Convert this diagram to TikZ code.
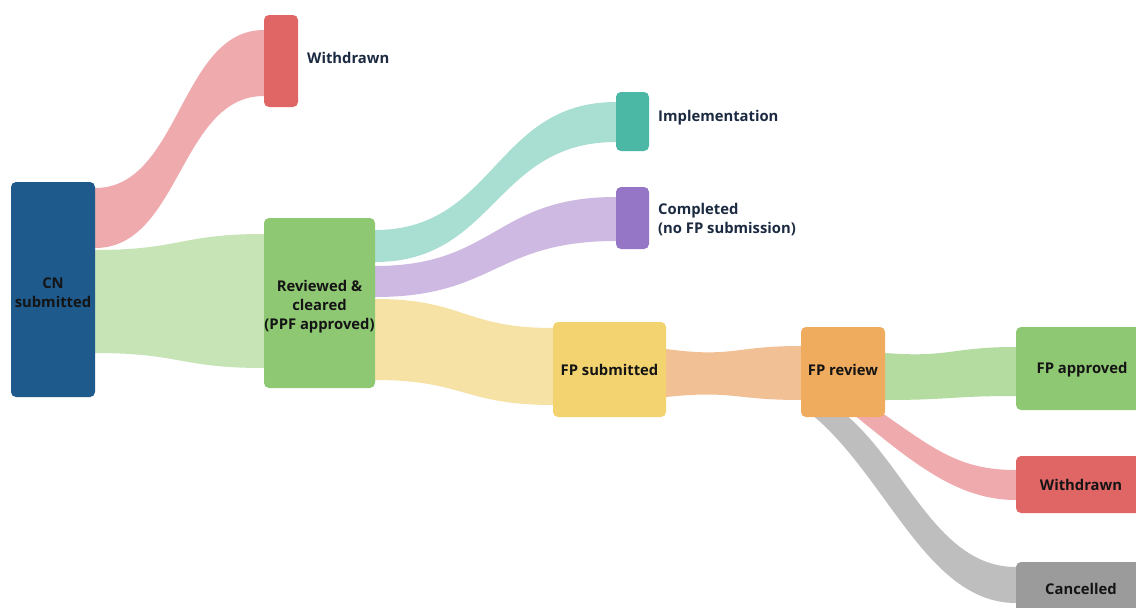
\documentclass[tikz,border=0pt]{standalone}
\usepackage{fontspec}
\setmainfont{Open Sans}
\usetikzlibrary{calc,backgrounds}
\definecolor{cnblue}{HTML}{1E5A8C}
\definecolor{nred}{HTML}{E06666}
\definecolor{ngreen}{HTML}{8FC873}
\definecolor{nteal}{HTML}{4BB8A6}
\definecolor{npurple}{HTML}{9575C6}
\definecolor{nyellow}{HTML}{F2D36F}
\definecolor{norange}{HTML}{F0AC5E}
\definecolor{ngray}{HTML}{9B9B9B}
\definecolor{fpink}{HTML}{EFAAAE}
\definecolor{fgreen}{HTML}{C6E4B6}
\definecolor{fteal}{HTML}{A9DED3}
\definecolor{fpurple}{HTML}{CDB9E1}
\definecolor{fyellow}{HTML}{F6E2A4}
\definecolor{fpeach}{HTML}{F2C095}
\definecolor{fgreen2}{HTML}{B4DBA0}
\definecolor{fgray}{HTML}{BEBEBE}
\definecolor{txtdark}{HTML}{141414}
\definecolor{lbl}{HTML}{1B2A41}
\tikzset{
  bar/.style={rectangle, rounded corners=5pt, inner sep=0pt},
  intext/.style={inner sep=0pt, align=center,
    font=\fontsize{14.8}{19}\selectfont\bfseries, text=txtdark},
  outlabel/.style={anchor=west, inner sep=0pt, align=left,
    font=\fontsize{14.8}{19}\selectfont\bfseries, text=lbl}
}
\begin{document}
\begin{tikzpicture}[x=1pt,y=-1pt]
\useasboundingbox (0,0) rectangle (1136,608);
\begin{scope}
\clip (0,0) rectangle (1136,608);
% boxes
\node[bar, fill=cnblue, minimum width=84pt, minimum height=215pt] (cn) at (53,289.5) {};
\node[bar, fill=nred, minimum width=34pt, minimum height=92pt] (w1) at (281,61) {};
\node[bar, fill=ngreen, minimum width=111pt, minimum height=170pt] (rc) at (319.5,303) {};
\node[bar, fill=nteal, minimum width=33pt, minimum height=59pt] (impl) at (632.5,121.5) {};
\node[bar, fill=npurple, minimum width=33pt, minimum height=62pt] (comp) at (632.5,218) {};
\node[bar, fill=nyellow, minimum width=113pt, minimum height=95pt] (fps) at (609.5,369.5) {};
\node[bar, fill=norange, minimum width=84pt, minimum height=90pt] (fpr) at (843,372) {};
\node[bar, fill=ngreen, minimum width=130pt, minimum height=83pt] (fpa) at (1081,368.5) {};
\node[bar, fill=nred, minimum width=130pt, minimum height=57pt] (w2) at (1081,484.5) {};
\node[bar, fill=ngray, minimum width=130pt, minimum height=56pt] (canc) at (1081,590) {};
% texts
\node[intext] (cnt) at (53,293) {CN\\submitted};
\node[intext] (rct) at (319.5,306.5) {Reviewed \&\\cleared\\(PPF approved)};
\node[intext] (fpst) at (609.5,369.5) {FP submitted};
\node[intext] (fprt) at (843,369.5) {FP review};
\node[intext] (fpat) at (1082,369.5) {FP approved};
\node[intext] (w2t) at (1081,484.5) {Withdrawn};
\node[intext] (canct) at (1081,589) {Cancelled};
\node[outlabel] (w1l) at (307,58) {Withdrawn};
\node[outlabel] (impll) at (658,118) {Implementation};
\node[outlabel] (compl) at (658,220) {Completed\\(no FP submission)};
\end{scope}
% flows
\begin{scope}[on background layer]
\fill[white] (0,0) rectangle (1136,608);
\fill[fpink] ($(cn.east|-0,188)+(-4,0)$) -- (cn.east|-0,188) .. controls (180,188) and (180,30) .. (w1.west|-0,30)
  -- (w1.west|-0,96) .. controls (180,96) and (180,248) .. (cn.east|-0,248) -- ($(cn.east|-0,248)+(-4,0)$) -- cycle;
\fill[fgreen] (cn.east|-0,250) .. controls (180,250) and (180,234) .. (rc.west|-0,234)
  -- (rc.west|-0,368) .. controls (180,368) and (180,353) .. (cn.east|-0,353) -- cycle;
\fill[fteal] (rc.east|-0,230) .. controls (495,230) and (495,102) .. (impl.west|-0,102)
  -- (impl.west|-0,142) .. controls (495,142) and (495,262) .. (rc.east|-0,262) -- cycle;
\fill[fpurple] (rc.east|-0,266) .. controls (495,266) and (495,197) .. (comp.west|-0,197)
  -- (comp.west|-0,241) .. controls (495,241) and (495,297) .. (rc.east|-0,297) -- cycle;
\fill[fyellow] (rc.east|-0,299) .. controls (464,299) and (464,328) .. (fps.west|-0,328)
  -- (fps.west|-0,405) .. controls (464,405) and (464,380) .. (rc.east|-0,380) -- cycle;
\fill[fpeach] (fps.east|-0,349) .. controls (733,358) and (733,346) .. (fpr.west|-0,346)
  -- (fpr.west|-0,400) .. controls (733,400) and (733,390) .. (fps.east|-0,397) -- cycle;
\fill[fgreen2] (fpr.east|-0,353) .. controls (950,358) and (950,347) .. (fpa.west|-0,347)
  -- (fpa.west|-0,396) .. controls (950,396) and (950,400) .. (fpr.east|-0,400) -- cycle;
\fill[fpink] (878,410) .. controls (935,450) and (960,470) .. (w2.west|-0,470)
  -- (w2.west|-0,500) .. controls (955,500) and (910,460) .. (848,410) -- cycle;
\fill[fgray] (840,410) .. controls (905,460) and (935,567) .. (canc.west|-0,567)
  -- (canc.west|-0,603) .. controls (925,603) and (885,470) .. (806,410) -- cycle;
\end{scope}
\end{tikzpicture}
\end{document}
